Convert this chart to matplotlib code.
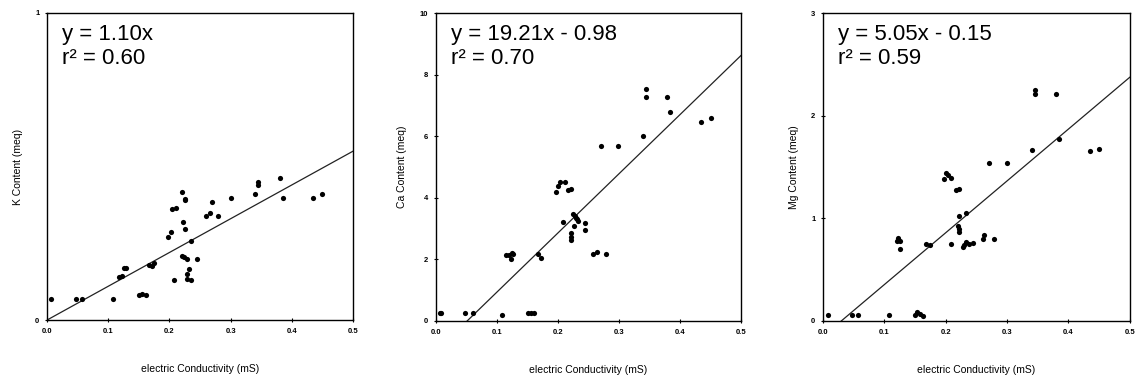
import numpy as np
import matplotlib.pyplot as plt

plt.rcParams['font.family'] = ['Liberation Sans', 'DejaVu Sans']

# K content vs electric conductivity
k_ec = [0.0065, 0.048, 0.057, 0.108, 0.117, 0.122, 0.126, 0.129, 0.150, 0.155, 0.161,
        0.166, 0.171, 0.174, 0.198, 0.202, 0.204, 0.210, 0.207, 0.221, 0.226, 0.226,
        0.222, 0.225, 0.235, 0.220, 0.224, 0.228, 0.228, 0.229, 0.235, 0.232, 0.245,
        0.259, 0.266, 0.270, 0.280, 0.300, 0.340, 0.344, 0.344, 0.380, 0.386, 0.435, 0.449]
k_val = [0.070, 0.068, 0.070, 0.070, 0.141, 0.145, 0.168, 0.168, 0.080, 0.085, 0.080,
         0.180, 0.175, 0.185, 0.270, 0.288, 0.363, 0.366, 0.130, 0.417, 0.390, 0.395,
         0.320, 0.297, 0.258, 0.210, 0.205, 0.200, 0.150, 0.135, 0.130, 0.165, 0.200,
         0.338, 0.347, 0.385, 0.338, 0.399, 0.409, 0.450, 0.440, 0.461, 0.399, 0.399, 0.409]

# Ca content vs electric conductivity
ca_ec = [0.006, 0.009, 0.048, 0.060, 0.108, 0.150, 0.156, 0.161, 0.115, 0.120, 0.124,
         0.127, 0.123, 0.167, 0.172, 0.197, 0.200, 0.204, 0.211, 0.216, 0.221, 0.208,
         0.221, 0.221, 0.221, 0.225, 0.228, 0.231, 0.233, 0.230, 0.226, 0.244, 0.244,
         0.258, 0.264, 0.279, 0.270, 0.299, 0.340, 0.345, 0.345, 0.379, 0.384, 0.435, 0.450]
ca_val = [0.27, 0.27, 0.25, 0.25, 0.19, 0.25, 0.25, 0.25, 2.13, 2.13, 2.20, 2.16, 2.02,
          2.19, 2.05, 4.18, 4.38, 4.50, 4.50, 4.25, 4.29, 3.21, 2.86, 2.74, 2.63, 3.46,
          3.40, 3.30, 3.24, 3.35, 3.08, 3.17, 2.97, 2.16, 2.25, 2.16, 5.68, 5.70, 6.02,
          7.53, 7.26, 7.26, 6.78, 6.45, 6.60]

# Mg content vs electric conductivity
mg_ec = [0.008, 0.048, 0.057, 0.107, 0.150, 0.153, 0.158, 0.163, 0.120, 0.123, 0.126,
         0.125, 0.168, 0.174, 0.198, 0.201, 0.204, 0.208, 0.217, 0.222, 0.208, 0.222,
         0.233, 0.220, 0.221, 0.221, 0.228, 0.233, 0.238, 0.244, 0.229, 0.260, 0.263,
         0.279, 0.270, 0.300, 0.340, 0.345, 0.345, 0.380, 0.385, 0.435, 0.450]
mg_val = [0.055, 0.055, 0.055, 0.055, 0.060, 0.090, 0.070, 0.050, 0.780, 0.810, 0.780,
          0.700, 0.755, 0.740, 1.380, 1.440, 1.420, 1.390, 1.280, 1.290, 0.755, 1.020,
          1.050, 0.930, 0.900, 0.870, 0.720, 0.770, 0.750, 0.760, 0.740, 0.800, 0.840,
          0.800, 1.540, 1.540, 1.670, 2.250, 2.210, 2.210, 1.770, 1.660, 1.680]

panels = [
    dict(x=k_ec, y=k_val, slope=1.10, icpt=0.0, ymax=1, yticks=[0, 1],
         ylabel='K Content (meq)', eq='y = 1.10x\nr² = 0.60',
         pos=[0.0414, 0.160, 0.2694, 0.806]),
    dict(x=ca_ec, y=ca_val, slope=19.21, icpt=-0.98, ymax=10, yticks=[0, 2, 4, 6, 8, 10],
         ylabel='Ca Content (meq)', eq='y = 19.21x - 0.98\nr² = 0.70',
         pos=[0.3838, 0.1575, 0.2685, 0.808]),
    dict(x=mg_ec, y=mg_val, slope=5.05, icpt=-0.15, ymax=3, yticks=[0, 1, 2, 3],
         ylabel='Mg Content (meq)', eq='y = 5.05x - 0.15\nr² = 0.59',
         pos=[0.7245, 0.1575, 0.2700, 0.808]),
]

xticks = [0.0, 0.1, 0.2, 0.3, 0.4, 0.5]

fig = plt.figure(figsize=(11.36, 3.81), dpi=100)

for p in panels:
    ax = fig.add_axes(p['pos'])
    ax.scatter(p['x'], p['y'], s=14, color='black', zorder=3, linewidths=0)
    ax.axline((0, p['icpt']), slope=p['slope'], color='#222222', lw=0.9)
    ax.set_xlim(0, 0.5)
    ax.set_ylim(0, p['ymax'])
    ax.set_xticks(xticks)
    ax.set_xticklabels(['%.1f' % t for t in xticks])
    ax.set_yticks(p['yticks'])
    ax.tick_params(direction='inout', length=3, width=0.8, labelsize=5.5, pad=4)
    for lab in ax.get_xticklabels() + ax.get_yticklabels():
        lab.set_fontweight('bold')
    for s in ax.spines.values():
        s.set_linewidth(1.0)
    ax.set_xlabel('electric Conductivity (mS)', fontsize=7.5, labelpad=21)
    ax.set_ylabel(p['ylabel'], fontsize=7.5, labelpad=9)
    ax.text(0.05, 0.965, p['eq'], transform=ax.transAxes, fontsize=16,
            va='top', ha='left', linespacing=1.2)

fig.savefig('out.png', dpi=100)
